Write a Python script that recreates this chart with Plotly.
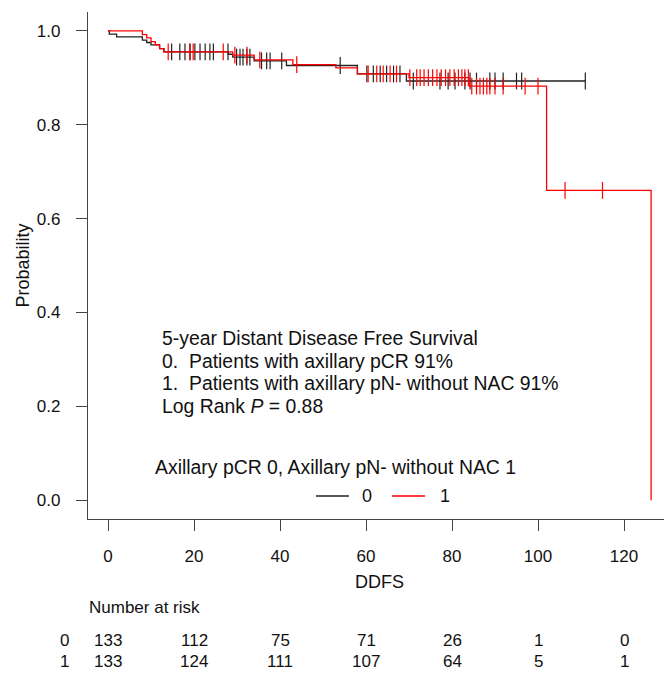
import numpy as np
import plotly.graph_objects as go

# ---- data ----
t0 = [0, 0.3, 2, 8, 9, 10, 12, 13, 28, 29, 34, 41.5, 58, 69.4, 111]
s0 = [1.0, 0.993, 0.987, 0.98, 0.975, 0.97, 0.962, 0.955, 0.95, 0.944, 0.936, 0.926, 0.908, 0.893, 0.893]
t1 = [0, 8, 9, 10, 11, 12, 13, 29, 34, 43, 53, 58, 70, 84, 102, 126.3]
s1 = [1.0, 0.992, 0.985, 0.977, 0.97, 0.962, 0.955, 0.948, 0.938, 0.928, 0.921, 0.908, 0.9, 0.882, 0.66, 0.0]

cens0 = [14.8, 16.7, 17.9, 19.1, 20.2, 21.4, 22.6, 23.7, 24.5, 27.9, 29.9, 30.7, 31.4, 32.3, 33,
         35.7, 36.9, 37.7, 40.4, 54, 60.2, 61.7, 63.3, 64.8, 66.4, 67.9, 71, 77.2, 79.1, 80.7,
         83, 84.2, 85.7, 88.8, 90, 91.9, 95, 96.2, 111]
cens1 = [14, 19, 19.8, 26.8, 29.5, 32.3, 35.3, 43.9, 60.5, 62.5, 64, 65.6, 67.1, 70.2, 71.8,
         72.6, 73.5, 74.5, 75.5, 76.5, 77.5, 78.5, 79.5, 80.5, 81.5, 82.3, 83, 83.8, 84.6, 85.7,
         86.5, 87.3, 88.1, 88.8, 90, 91.9, 97, 100, 106.3, 115]

risk_times = [0, 20, 40, 60, 80, 100, 120]
risk0 = [133, 112, 75, 71, 26, 1, 0]
risk1 = [133, 124, 111, 107, 64, 5, 1]
groups = ["0", "1"]
colors = ["#222222", "#FF0000"]

x_ticks = [0, 20, 40, 60, 80, 100, 120]
y_ticks = [0.0, 0.2, 0.4, 0.6, 0.8, 1.0]

annot_lines = [
    "5-year Distant Disease Free Survival",
    "0.  Patients with axillary pCR 91%",
    "1.  Patients with axillary pN- without NAC 91%",
    "Log Rank <i>P</i> = 0.88",
]
legend_title = "Axillary pCR 0, Axillary pN- without NAC 1"

# ---- layout geometry (pixels) ----
W, H = 664, 673
L, R, T, B = 88, 664, 12, 519
PW, PH = R - L, B - T
FONT = "Liberation Sans, Arial, sans-serif"
TXT = "#111111"


def px(x):
    return (x - L) / PW


def py(y):
    return (B - y) / PH


def step_eval(times, surv, q):
    idx = np.searchsorted(np.array(times), np.array(q), side="right") - 1
    return np.array(surv)[idx]


fig = go.Figure()
for times, surv, cens, col, name in [(t0, s0, cens0, colors[0], groups[0]),
                                      (t1, s1, cens1, colors[1], groups[1])]:
    fig.add_trace(go.Scatter(x=times, y=surv, mode="lines", line=dict(color=col, width=1.3, shape="hv"),
                             name=name, showlegend=False, hoverinfo="skip"))
    fig.add_trace(go.Scatter(x=cens, y=step_eval(times, surv, cens), mode="markers",
                             marker=dict(symbol="line-ns", size=12, line=dict(color=col, width=1.2)),
                             showlegend=False, hoverinfo="skip"))

annotations = []
# text block
for i, line in enumerate(annot_lines):
    annotations.append(dict(x=px(160), y=py(338 + i * 22.5), xref="paper", yref="paper", text=line,
                            showarrow=False, xanchor="left", yanchor="middle",
                            font=dict(size=19.4, color=TXT, family=FONT)))
annotations.append(dict(x=px(153), y=py(467), xref="paper", yref="paper", text=legend_title,
                        showarrow=False, xanchor="left", yanchor="middle",
                        font=dict(size=19.4, color=TXT, family=FONT)))
# legend keys
shapes = []
for (x0, x1, lx, g, col) in [(316, 349, 367, groups[0], colors[0]), (392, 425, 445, groups[1], colors[1])]:
    shapes.append(dict(type="line", xref="paper", yref="paper", x0=px(x0), x1=px(x1), y0=py(496), y1=py(496),
                       line=dict(color=col, width=1.3)))
    annotations.append(dict(x=px(lx), y=py(496), xref="paper", yref="paper", text=g, showarrow=False,
                            xanchor="center", yanchor="middle", font=dict(size=18, color=TXT, family=FONT)))

# x title
annotations.append(dict(x=63.1, y=py(582), xref="x", yref="paper", text="DDFS", showarrow=False,
                        xanchor="center", yanchor="middle", font=dict(size=18, color=TXT, family=FONT)))
# number at risk
annotations.append(dict(x=px(87), y=py(607), xref="paper", yref="paper", text="Number at risk",
                        showarrow=False, xanchor="left", yanchor="middle",
                        font=dict(size=17, color=TXT, family=FONT)))
for gi, (g, vals, yy) in enumerate([(groups[0], risk0, 640), (groups[1], risk1, 661)]):
    annotations.append(dict(x=px(64), y=py(yy), xref="paper", yref="paper", text=g, showarrow=False,
                            xanchor="center", yanchor="middle", font=dict(size=17, color=TXT, family=FONT)))
    for t, v in zip(risk_times, vals):
        annotations.append(dict(x=t, y=py(yy), xref="x", yref="paper", text=str(v), showarrow=False,
                                xanchor="center", yanchor="middle", font=dict(size=17, color=TXT, family=FONT)))
# y title
annotations.append(dict(x=px(22), y=0.5, xref="paper", yref="paper", text="Probability", textangle=-90,
                        showarrow=False, xanchor="center", yanchor="middle",
                        font=dict(size=18, color=TXT, family=FONT)))

x_lo = (L - 108) / 4.3
x_hi = (R - 108) / 4.3

fig.update_layout(
    width=W, height=H, margin=dict(l=L, r=W - R, t=T, b=H - B),
    paper_bgcolor="white", plot_bgcolor="white",
    font=dict(family=FONT, color=TXT),
    xaxis=dict(range=[x_lo, x_hi], tickvals=x_ticks, ticktext=[str(v) for v in x_ticks],
               showgrid=False, zeroline=False, showline=True, linecolor="#444", linewidth=1.2,
               ticks="outside", ticklen=11, tickcolor="#444", tickwidth=1.2,
               tickfont=dict(size=17, color=TXT, family=FONT), ticklabelstandoff=10),
    yaxis=dict(range=[-0.04, 1.04], tickvals=y_ticks, ticktext=["%.1f" % v for v in y_ticks],
               showgrid=False, zeroline=False, showline=True, linecolor="#444", linewidth=1.2,
               ticks="outside", ticklen=11, tickcolor="#444", tickwidth=1.2,
               tickfont=dict(size=17, color=TXT, family=FONT), ticklabelstandoff=12),
    annotations=annotations, shapes=shapes, showlegend=False,
)

fig.write_html("out.html")
